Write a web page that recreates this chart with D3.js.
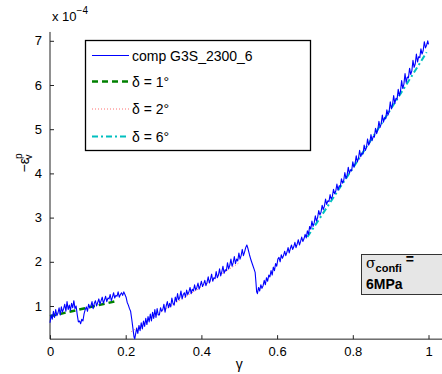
<!DOCTYPE html>
<html><head><meta charset="utf-8">
<script src="https://cdn.jsdelivr.net/npm/d3@7"></script>
<style>body{margin:0;background:#fff;}svg{display:block;font-family:"Liberation Sans",Arial,sans-serif;}</style>
</head><body>
<svg id="c" width="442" height="374"></svg>
<script>
const compGamma = [0.000,0.003,0.006,0.009,0.012,0.015,0.018,0.021,0.024,0.027,0.030,0.033,0.036,0.039,0.042,0.045,0.048,0.051,0.054,0.057,0.060,0.063,0.066,0.069,0.072,0.075,0.078,0.081,0.084,0.087,0.090,0.093,0.096,0.099,0.102,0.105,0.108,0.111,0.114,0.117,0.120,0.123,0.126,0.129,0.132,0.135,0.138,0.141,0.144,0.147,0.150,0.153,0.156,0.159,0.162,0.165,0.168,0.171,0.174,0.177,0.180,0.183,0.186,0.189,0.192,0.195,0.198,0.201,0.204,0.207,0.210,0.213,0.216,0.219,0.222,0.224,0.226,0.229,0.232,0.235,0.238,0.241,0.244,0.247,0.250,0.253,0.256,0.259,0.262,0.265,0.268,0.271,0.274,0.277,0.280,0.283,0.286,0.289,0.292,0.295,0.298,0.301,0.304,0.307,0.310,0.313,0.316,0.319,0.322,0.325,0.328,0.331,0.334,0.337,0.340,0.343,0.346,0.349,0.352,0.355,0.358,0.361,0.364,0.367,0.370,0.373,0.376,0.379,0.382,0.385,0.388,0.391,0.394,0.397,0.400,0.403,0.406,0.409,0.412,0.415,0.418,0.421,0.424,0.427,0.430,0.433,0.436,0.439,0.442,0.445,0.448,0.451,0.454,0.457,0.460,0.463,0.466,0.469,0.472,0.475,0.478,0.481,0.484,0.487,0.490,0.493,0.496,0.499,0.502,0.505,0.508,0.511,0.514,0.517,0.520,0.523,0.527,0.531,0.535,0.539,0.542,0.544,0.546,0.548,0.551,0.554,0.557,0.560,0.563,0.566,0.569,0.572,0.575,0.578,0.581,0.584,0.587,0.590,0.593,0.596,0.599,0.602,0.605,0.608,0.611,0.614,0.617,0.620,0.623,0.626,0.629,0.632,0.635,0.638,0.641,0.644,0.647,0.650,0.653,0.656,0.659,0.662,0.665,0.668,0.671,0.674,0.677,0.680,0.683,0.686,0.689,0.692,0.695,0.698,0.701,0.704,0.707,0.710,0.713,0.716,0.719,0.722,0.725,0.728,0.731,0.734,0.737,0.740,0.743,0.746,0.749,0.752,0.755,0.758,0.761,0.764,0.767,0.770,0.773,0.776,0.779,0.782,0.785,0.788,0.791,0.794,0.797,0.800,0.803,0.806,0.809,0.812,0.815,0.818,0.821,0.824,0.827,0.830,0.833,0.836,0.839,0.842,0.845,0.848,0.851,0.854,0.857,0.860,0.863,0.866,0.869,0.872,0.875,0.878,0.881,0.884,0.887,0.890,0.893,0.896,0.899,0.902,0.905,0.908,0.911,0.914,0.917,0.920,0.923,0.926,0.929,0.932,0.935,0.938,0.941,0.944,0.947,0.950,0.953,0.956,0.959,0.962,0.965,0.968,0.971,0.974,0.977,0.980,0.983,0.986,0.989,0.992,0.995,0.998,1.000];
const compEps = [
  0.62,0.80,0.70,0.88,0.74,0.92,0.78,0.84,0.96,0.80,0.98,0.86,0.94,1.04,0.88,1.10,0.92,1.02,0.90,1.06,0.96,1.12,0.94,1.00,
  0.80,0.64,0.66,0.60,0.70,0.66,
  0.82,0.92,0.98,0.88,1.04,0.96,1.00,1.10,0.94,1.06,
  1.12,1.00,1.08,1.16,1.04,1.12,1.20,1.06,1.14,1.22,
  1.10,1.18,1.16,1.26,1.12,1.20,1.30,1.18,1.24,1.22,
  1.32,1.20,1.26,1.30,1.24,1.32,1.26,1.20,
  1.08,1.02,0.94,0.88,0.70,0.50,0.30,0.26,
  0.36,0.50,0.38,0.56,0.44,0.62,0.48,0.66,0.54,0.72,0.58,0.76,0.64,0.82,0.66,0.86,0.72,0.92,0.74,0.94,0.80,
  0.80,0.96,0.88,0.92,1.04,0.86,1.00,1.10,0.96,1.06,
  0.98,1.18,1.06,1.02,1.20,1.10,1.28,1.14,1.20,1.34,
  1.16,1.26,1.30,1.20,1.36,1.26,1.32,1.42,1.28,1.38,
  1.34,1.48,1.36,1.42,1.52,1.38,1.46,1.56,1.44,1.50,
  1.58,1.46,1.54,1.66,1.52,1.60,1.72,1.56,1.64,1.62,
  1.78,1.64,1.70,1.84,1.68,1.78,1.90,1.74,1.82,1.80,
  1.98,1.84,1.92,2.06,1.90,1.98,2.12,1.96,2.06,2.02,
  2.20,2.06,2.14,2.28,2.14,2.22,2.32,2.38,
  2.30,2.16,2.04,1.94,1.84,1.76,1.55,1.32,1.28,
  1.42,1.34,1.48,1.40,1.46,1.58,1.48,1.64,1.56,1.70,
  1.66,1.80,1.70,1.88,1.80,1.96,1.90,2.06,2.10,2.00,
  2.16,2.08,2.14,2.24,2.14,2.22,2.32,2.20,2.30,2.38,
  2.28,2.34,2.44,2.32,2.40,2.50,2.38,2.46,2.56,2.46,
  2.52,2.62,2.54,
  2.70,2.62,2.80,2.74,2.92,2.80,2.88,3.04,2.92,3.00,
  3.16,3.06,3.12,3.28,3.18,3.26,3.42,3.30,3.38,3.36,
  3.52,3.42,3.48,3.64,3.54,3.60,3.76,3.62,3.72,3.70,
  3.88,3.78,3.84,4.02,3.88,3.96,4.14,4.00,4.08,4.06,
  4.26,4.14,4.22,4.40,4.26,4.34,4.52,4.38,4.46,4.44,
  4.64,4.52,4.58,4.78,4.64,4.70,4.88,4.74,4.84,4.82,
  5.02,4.90,4.98,5.18,5.04,5.12,5.32,5.16,5.26,5.24,
  5.44,5.32,5.40,5.62,5.46,5.56,5.76,5.58,5.70,5.68,
  5.90,5.76,5.86,6.10,5.92,6.02,6.26,6.06,6.18,6.16,
  6.38,6.24,6.32,6.56,6.40,6.48,6.70,6.52,6.64,6.62,
  6.82,6.70,6.78,6.98,6.84,6.90,7.00,
  6.92];

const fit1Gamma = [0.000,0.170];
const fit1Eps = [0.77,1.10];
const fit2Gamma = [0.215,0.300,0.400,0.500];
const fit2Eps = [0.42,0.90,1.43,1.98];
const fit6Gamma = [0.680,0.720,0.760,0.800,0.840,0.880,0.920,0.960,0.995];
const fit6Eps = [2.56,3.08,3.60,4.12,4.65,5.18,5.72,6.26,6.74];

const xTicks = [0,0.2,0.4,0.6,0.8,1];
const xTickLabels = ["0","0.2","0.4","0.6","0.8","1"];
const yTicks = [1,2,3,4,5,6,7];
const legendLabels = ["comp G3S_2300_6","δ = 1°","δ = 2°","δ = 6°"];

const svg = d3.select("#c");
const x = d3.scaleLinear().domain([0,1]).range([50,428.5]);
const y = d3.scaleLinear().domain([1,7]).range([306,40.8]);
const yMin = 0.25, yMax = 7.2, xMax = 1.04;

// axes
const xAxis = d3.axisBottom(x).tickValues(xTicks).tickFormat((d,i)=>xTickLabels[i]).tickSizeInner(-4).tickSizeOuter(0).tickPadding(8);
const gx = svg.append("g").attr("transform",`translate(0,${y(yMin)})`).call(xAxis);
gx.select(".domain").attr("d",`M${x(0)},0H${x(xMax)}`);
const yAxis = d3.axisLeft(y).tickValues(yTicks).tickFormat(d3.format("d")).tickSizeInner(-4).tickSizeOuter(0).tickPadding(8);
const gy = svg.append("g").attr("transform",`translate(${x(0)},0)`).call(yAxis);
gy.select(".domain").attr("d",`M0,${y(yMin)}V${y(yMax)}`);
svg.selectAll(".tick text").attr("font-size",13).attr("font-family","Liberation Sans, Arial, sans-serif").attr("fill","#000");
svg.selectAll(".domain,.tick line").attr("stroke","#222");

// exponent label
const ex = svg.append("text").attr("x",52).attr("y",21).attr("font-size",13).attr("fill","#000");
ex.append("tspan").text("x 10");
ex.append("tspan").attr("dy",-7).attr("font-size",10).text("−4");

// series
const line = d3.line().x(d=>x(d[0])).y(d=>y(d[1]));
const comp = compGamma.map((g,i)=>[g,compEps[i]]);
const f1 = fit1Gamma.map((g,i)=>[g,fit1Eps[i]]);
const f2 = fit2Gamma.map((g,i)=>[g,fit2Eps[i]]);
const f6 = fit6Gamma.map((g,i)=>[g,fit6Eps[i]]);
svg.append("path").attr("d",line(f1)).attr("fill","none").attr("stroke","#008000").attr("stroke-width",2.5).attr("stroke-dasharray","6,4");
svg.append("path").attr("d",line(f2)).attr("fill","none").attr("stroke","#ff7070").attr("stroke-width",1).attr("stroke-dasharray","1,2");
svg.append("path").attr("d",line(f6)).attr("fill","none").attr("stroke","#00bfbf").attr("stroke-width",2).attr("stroke-dasharray","6,3,2,3");
svg.append("path").attr("d",line(comp)).attr("fill","none").attr("stroke","#0000ff").attr("stroke-width",1.1).attr("stroke-linejoin","round");

// axis labels
svg.append("text").attr("x",x(0.5)).attr("y",369).attr("text-anchor","middle").attr("font-size",14).text("γ");
const yl = svg.append("text").attr("transform",`translate(29,163) rotate(-90)`).attr("text-anchor","middle").attr("font-size",14);
yl.append("tspan").text("−ε");
yl.append("tspan").attr("dy",-7).attr("dx",-1).attr("font-size",10).text("p");
yl.append("tspan").attr("dy",10).attr("dx",-6).attr("font-size",10).text("v");

// legend
const lg = svg.append("g");
lg.append("rect").attr("x",85.5).attr("y",40.5).attr("width",225).attr("height",110).attr("fill","#fff").attr("stroke","#000").attr("stroke-width",1.3);
const styles = [
  {c:"#0000ff",w:1.1,d:null},
  {c:"#008000",w:2.5,d:"6,4"},
  {c:"#ff7070",w:1,d:"1,2"},
  {c:"#00bfbf",w:2,d:"6,3,2,3"}
];
const ly = [55.5,81.5,109,136.5];
legendLabels.forEach((t,i)=>{
  const s = styles[i];
  const p = lg.append("line").attr("x1",92).attr("x2",129).attr("y1",ly[i]).attr("y2",ly[i]).attr("stroke",s.c).attr("stroke-width",s.w);
  if (s.d) p.attr("stroke-dasharray",s.d);
  lg.append("text").attr("x",132).attr("y",ly[i]+5).attr("font-size",14).attr("fill","#000").text(t);
});

// annotation box
const ab = svg.append("g");
ab.append("rect").attr("x",361.5).attr("y",254.5).attr("width",90).attr("height",40).attr("fill","#e6e6e6").attr("stroke","#333").attr("stroke-width",1);
const t1 = ab.append("text").attr("x",366).attr("y",268).attr("font-size",14).attr("font-weight","bold").attr("fill","#000");
t1.append("tspan").attr("font-weight","normal").attr("font-family","DejaVu Serif, serif").text("σ");
t1.append("tspan").attr("dy",4).attr("font-size",11).text("confi");
t1.append("tspan").attr("dy",-8).attr("dx",4).text("=");
ab.append("text").attr("x",366).attr("y",289).attr("font-size",14).attr("font-weight","bold").attr("fill","#000").text("6MPa");
</script>
</body></html>
